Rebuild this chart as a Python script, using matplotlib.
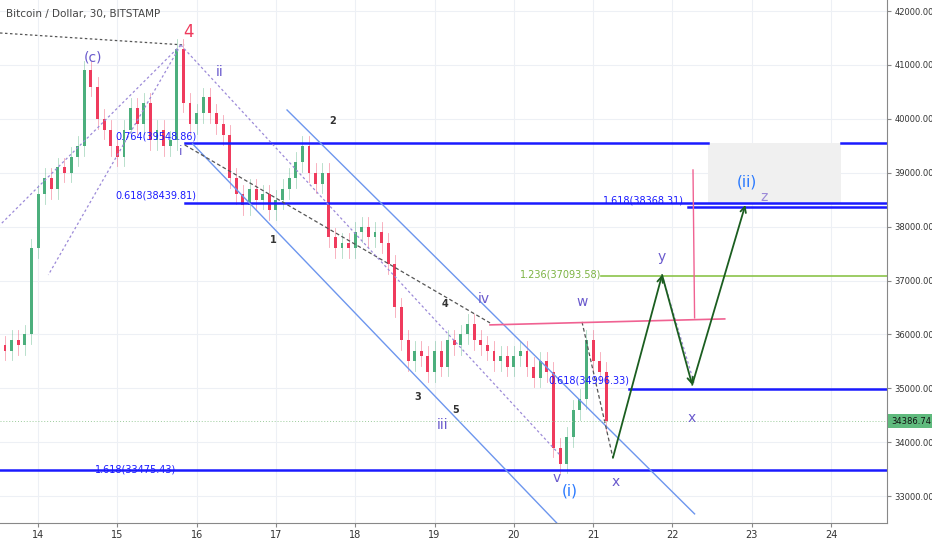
import matplotlib
matplotlib.use("Agg")
import matplotlib.pyplot as plt
from matplotlib.patches import Rectangle

# 2-hour closes, first bar at day 13.5
START = 13.5
STEP = 1 / 12
closes = [
    35800, 35700, 35900, 35800, 36000, 37600,
    38600, 38900, 38700, 39100, 39000, 39300, 39500, 40900, 40600, 40000, 39800, 39500,
    39300, 39800, 40200, 39900, 40300, 39600, 39800, 39500, 39600, 41300, 40300, 39900,
    40100, 40400, 40100, 39900, 39700, 38900, 38600, 38400, 38700, 38500, 38600, 38300,
    38500, 38700, 38900, 39200, 39500, 39000, 38800, 39000, 37800, 37600, 37700, 37600,
    37900, 38000, 37800, 37900, 37700, 37300, 36500, 35900, 35500, 35700, 35600, 35300,
    35700, 35400, 35900, 35800, 36000, 36200, 35900, 35800, 35700, 35500, 35600, 35400,
    35600, 35700, 35400, 35200, 35500, 35300, 33900, 33600, 34100, 34600, 34800, 35900,
    35500, 35300, 34386.74,
]
first_open = 35900

fib_levels = [39548.86, 38439.81, 38368.31, 37093.58, 34996.33, 33475.43]
fib_labels = ["0.764(39548.86)", "0.618(38439.81)", "1.618(38368.31)",
              "1.236(37093.58)", "0.618(34996.33)", "1.618(33475.43)"]
fib_start = [15.85, 15.85, 22.20, 21.10, 21.45, 13.52]

x_ticks = list(range(14, 25))
y_ticks = list(range(33000, 42001, 1000))
last_price = 34386.74

BLUE = "#1a1aff"
UP = "#4caf7d"
DN = "#ef3b5d"

fig = plt.figure(figsize=(9.32, 5.5), dpi=100)
ax = fig.add_axes([0, 0.049, 0.952, 0.951])
ax.set_xlim(13.52, 24.71)
ax.set_ylim(32500, 42206)


def px(x, y):
    return 14 + (x - 38) / 79.3, 41000 - (y - 65) * 18.55


ax.grid(color="#edf0f5", lw=0.8)
ax.set_axisbelow(True)

# candles
o = first_open
for i, c in enumerate(closes):
    t = START + i * STEP
    col = UP if c >= o else DN
    ax.plot([t, t], [min(o, c) - 180, max(o, c) + 180], color=col, lw=0.6, alpha=0.45)
    ax.add_patch(Rectangle((t - STEP * 0.22, min(o, c)), STEP * 0.44,
                           max(abs(c - o), 30), color=col, lw=0))
    o = c

# gray box
ax.add_patch(Rectangle((22.45, 38440), 1.68, 1109, color="#f0f0f0", lw=0, zorder=1))

# fib lines
for lvl, x0, i in zip(fib_levels, fib_start, range(6)):
    col = "#8bc34a" if i == 3 else BLUE
    if i == 0:
        ax.plot([x0, 22.45], [lvl, lvl], color=col, lw=1.8)
        ax.plot([24.13, 24.71], [lvl, lvl], color=col, lw=1.8)
    else:
        ax.plot([x0, 24.71], [lvl, lvl], color=col, lw=1.8 if i != 3 else 1.2)
lab_pos = [(115, 137), (115, 196), (603, 201), (520, 275), (548, 381), (95, 470)]
for lab, (lx, ly), i in zip(fib_labels, lab_pos, range(6)):
    col = "#7cb342" if i == 3 else BLUE
    ax.text(*px(lx, ly), lab, color=col, fontsize=7, va="center",
            family="Liberation Sans Narrow")

# channel
ch = "#6d96ee"
ax.plot([17.14, 22.28], [40165, 32670], color=ch, lw=1)
ax.plot([15.95, 20.54], [39535, 32504], color=ch, lw=1)

# dotted guides
ax.plot([13.52, 15.85], [41594, 41371], color="#555", lw=0.9, ls=(0, (2, 2)))
ax.plot([15.85, 19.70], [39516, 36214], color="#555", lw=0.9, ls=(0, (3, 2)))
pur = "#9c8ad8"
ax.plot([15.80, 13.52], [41371, 38032], color=pur, lw=0.9, ls=(0, (2, 2)))
ax.plot([15.80, 14.13], [41371, 37105], color=pur, lw=0.9, ls=(0, (2, 2)))
ax.plot([15.80, 20.58], [41371, 33766], color=pur, lw=0.9, ls=(0, (2, 2)))
ax.plot([20.86, 21.25], [36233, 33710], color="#555", lw=0.9, ls=(0, (3, 2)))
ax.plot([21.87, 22.28], [37105, 35064], color=pur, lw=0.9, ls=(0, (2, 2)))

# pink lines
ax.plot([19.70, 22.66], [36177, 36288], color="#f06292", lw=1.2)
ax.plot([22.26, 22.28], [39052, 36307], color="#f06292", lw=1)

# projected path
gx = [21.25, 21.87, 22.25, 22.92]
gy = [33710, 37105, 35064, 38403]
for k in (1, 2, 3):
    ax.annotate("", xy=(gx[k], gy[k]), xytext=(gx[k - 1], gy[k - 1]),
                arrowprops=dict(arrowstyle="->", color="#1b5e20", lw=1.3,
                                shrinkA=0, shrinkB=0))

# last price
ax.axhline(last_price, color="#9ccc9c", lw=0.7, ls=(0, (1, 2)))

# wave labels
labels = [
    ("4", 188, 32, "#ef3b5d", 12), ("(c)", 93, 58, "#6a5acd", 10),
    ("ii", 220, 72, "#6a5acd", 10), ("i", 181, 152, "#6a5acd", 9),
    ("2", 333, 121, "#333", 7), ("1", 273, 240, "#333", 7),
    ("4", 445, 304, "#333", 7), ("3", 418, 397, "#333", 7),
    ("5", 456, 410, "#333", 7), ("iii", 443, 425, "#6a5acd", 10),
    ("iv", 484, 299, "#6a5acd", 10), ("w", 582, 302, "#6a5acd", 10),
    ("v", 557, 478, "#6a5acd", 10), ("(i)", 570, 491, "#2979ff", 11),
    ("x", 616, 482, "#6a5acd", 10), ("x", 692, 418, "#6a5acd", 10),
    ("y", 662, 257, "#6a5acd", 10), ("(ii)", 747, 182, "#2979ff", 11),
    ("z", 764, 197, "#9c8ad8", 10),
]
for t, lx, ly, col, fs in labels:
    ax.text(*px(lx, ly), t, color=col, fontsize=fs, ha="center", va="center",
            fontweight="bold" if fs == 7 else "normal")

# axes styling
ax.set_xticks(x_ticks)
ax.set_xticklabels([str(v) for v in x_ticks], fontsize=7, color="#333")
ax.set_yticks(y_ticks)
ax.set_yticklabels([f"{v:.2f}" for v in y_ticks], fontsize=6, color="#333",
                   family="Liberation Sans Narrow")
ax.yaxis.tick_right()
ax.tick_params(length=3, color="#888", pad=2)
for s in ("top", "left"):
    ax.spines[s].set_visible(False)
ax.spines["right"].set_color("#888")
ax.spines["bottom"].set_color("#888")

ax.text(1.004, (last_price - 32500) / (42206 - 32500), f"{last_price:.2f}",
        transform=ax.transAxes, fontsize=6, color="#111", va="center",
        family="Liberation Sans Narrow",
        bbox=dict(boxstyle="square,pad=0.3", fc="#5fba7d", ec="none"))
fig.text(0.006, 0.975, "Bitcoin / Dollar, 30, BITSTAMP", fontsize=7.5, color="#444", va="center")

fig.savefig("out.png", dpi=100, facecolor="white")
